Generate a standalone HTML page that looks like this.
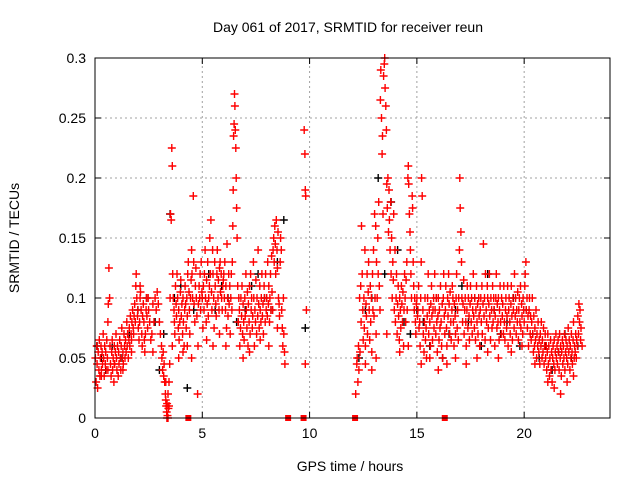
<!DOCTYPE html>
<html><head><meta charset="utf-8"><style>
body{margin:0;background:#fff;}
svg{display:block;font-family:"Liberation Sans",sans-serif;}
</style></head><body>
<svg id="chart" width="640" height="480">
<rect width="640" height="480" fill="#fff"/>
<text x="348" y="32" font-size="14" text-anchor="middle" fill="#000">Day 061 of 2017, SRMTID for receiver reun</text>
<text x="350" y="471" font-size="14" text-anchor="middle">GPS time / hours</text>
<text transform="translate(19,238) rotate(-90)" font-size="14" text-anchor="middle">SRMTID / TECUs</text>
<g id="grid"></g>
<g id="axes"></g>
<g id="black"></g>
<g id="red"></g>
<rect x="95" y="58" width="515" height="360" fill="none" stroke="#000" stroke-width="1"/>
</svg>
<script>
const xTicks=[0,5,10,15,20];
const yTicks=[0,0.05,0.1,0.15,0.2,0.25,0.3];
const yTickLabels=["0","0.05","0.1","0.15","0.2","0.25","0.3"];
// red series, [hour, TECU] pairs, by time segment
const redA=[[0.02,0.05],[0.05,0.03],[0.08,0.06],[0.1,0.045],[0.12,0.025],[0.15,0.055],[0.18,0.04],[0.2,0.065],[0.23,0.035],[0.25,0.05],[0.28,0.06],[0.3,0.04],[0.33,0.055],[0.35,0.045],[0.38,0.07],[0.4,0.05],[0.43,0.035],[0.45,0.06],[0.48,0.045],[0.5,0.055],[0.52,0.04],[0.55,0.065],[0.58,0.05],[0.6,0.08],[0.62,0.095],[0.65,0.125],[0.68,0.1],[0.7,0.06],[0.72,0.045],[0.75,0.035],[0.78,0.055],[0.8,0.065],[0.82,0.04],[0.85,0.05],[0.88,0.03],[0.9,0.06],[0.92,0.045],[0.95,0.055],[0.98,0.07],[1.0,0.05],[1.02,0.04],[1.05,0.06],[1.08,0.035],[1.1,0.055],[1.12,0.045],[1.15,0.065],[1.18,0.05],[1.2,0.04],[1.22,0.06],[1.25,0.075],[1.28,0.05],[1.3,0.055],[1.32,0.045],[1.35,0.07],[1.38,0.06],[1.4,0.05],[1.42,0.065],[1.45,0.055],[1.48,0.08],[1.5,0.06],[1.52,0.07],[1.55,0.05],[1.58,0.065],[1.6,0.075],[1.62,0.06],[1.65,0.085],[1.68,0.07],[1.7,0.065],[1.72,0.08],[1.75,0.09],[1.78,0.075],[1.8,0.07],[1.82,0.085],[1.85,0.095],[1.88,0.08],[1.9,0.11],[1.92,0.12],[1.95,0.1],[1.98,0.085],[2.0,0.09],[2.02,0.075],[2.05,0.065],[2.08,0.08],[2.1,0.1],[2.12,0.105],[2.15,0.09],[2.18,0.07],[2.2,0.06],[2.22,0.085],[2.25,0.095],[2.28,0.08],[2.3,0.065],[2.32,0.055],[2.35,0.07],[2.38,0.09],[2.4,0.1],[2.42,0.085],[2.45,0.075],[2.48,0.1],[2.5,0.09],[2.55,0.08],[2.6,0.065],[2.65,0.07],[2.7,0.055],[2.75,0.08],[2.8,0.1],[2.85,0.09],[2.9,0.105],[2.95,0.095],[3.0,0.08],[3.05,0.07],[3.1,0.06],[3.12,0.05],[3.15,0.04],[3.18,0.055],[3.2,0.035],[3.22,0.045],[3.25,0.03],[3.28,0.02],[3.3,0.015],[3.32,0.01],[3.34,0.005],[3.36,0.012],[3.38,0.002],[3.4,0.02],[3.42,0.008],[3.45,0.03],[3.48,0.045],[3.5,0.1],[3.52,0.17],[3.55,0.165],[3.58,0.225],[3.6,0.21],[3.62,0.12],[3.65,0.1],[3.68,0.09],[3.7,0.08],[3.72,0.07],[3.75,0.11],[3.78,0.095],[3.8,0.085],[3.82,0.12],[3.85,0.1],[3.88,0.075],[3.9,0.09],[3.92,0.065],[3.95,0.08],[3.98,0.105],[4.0,0.115],[4.02,0.085],[4.05,0.095],[4.08,0.07],[4.1,0.1],[4.12,0.08],[4.15,0.06],[4.18,0.09],[4.2,0.11],[4.22,0.095],[4.25,0.075],[4.28,0.1],[4.3,0.085],[4.32,0.12],[4.35,0.13],[4.38,0.105],[4.4,0.09],[4.42,0.07],[4.45,0.1],[4.48,0.115],[4.5,0.14],[4.52,0.12],[4.55,0.1],[4.58,0.185],[4.6,0.13],[4.62,0.095],[4.65,0.08],[4.68,0.11],[4.7,0.125],[4.72,0.1],[4.75,0.085],[4.78,0.02],[4.8,0.06],[4.82,0.095],[4.85,0.11],[4.88,0.1],[4.9,0.12],[4.92,0.09],[4.95,0.13],[4.98,0.105]];
const redB=[[5.0,0.1],[5.03,0.075],[5.05,0.11],[5.08,0.09],[5.1,0.12],[5.13,0.14],[5.15,0.1],[5.18,0.08],[5.2,0.115],[5.23,0.095],[5.25,0.13],[5.28,0.085],[5.3,0.1],[5.33,0.11],[5.35,0.15],[5.38,0.12],[5.4,0.165],[5.43,0.105],[5.45,0.09],[5.48,0.14],[5.5,0.12],[5.53,0.1],[5.55,0.075],[5.58,0.13],[5.6,0.11],[5.63,0.095],[5.65,0.085],[5.68,0.12],[5.7,0.14],[5.73,0.1],[5.75,0.115],[5.78,0.09],[5.8,0.125],[5.83,0.13],[5.85,0.105],[5.88,0.12],[5.9,0.1],[5.93,0.09],[5.95,0.11],[5.98,0.115],[6.0,0.12],[6.03,0.1],[6.05,0.13],[6.08,0.09],[6.1,0.11],[6.13,0.075],[6.15,0.145],[6.18,0.1],[6.2,0.085],[6.23,0.12],[6.25,0.095],[6.28,0.11],[6.3,0.07],[6.33,0.1],[6.35,0.12],[6.38,0.09],[6.4,0.13],[6.42,0.16],[6.44,0.19],[6.46,0.235],[6.48,0.245],[6.5,0.27],[6.52,0.26],[6.54,0.24],[6.56,0.225],[6.58,0.2],[6.6,0.175],[6.62,0.15],[6.65,0.11],[6.68,0.08],[6.7,0.1],[6.73,0.09],[6.75,0.06],[6.78,0.075],[6.8,0.1],[6.83,0.085],[6.85,0.11],[6.88,0.07],[6.9,0.095],[6.93,0.08],[6.95,0.065],[6.98,0.1],[7.0,0.085],[7.03,0.12],[7.05,0.09],[7.08,0.075],[7.1,0.105],[7.13,0.06],[7.15,0.095],[7.18,0.08],[7.2,0.11],[7.23,0.07],[7.25,0.12],[7.28,0.09],[7.3,0.1],[7.33,0.075],[7.35,0.085],[7.38,0.13],[7.4,0.1],[7.43,0.06],[7.45,0.09],[7.48,0.08],[7.5,0.115],[7.53,0.07],[7.55,0.1],[7.58,0.085],[7.6,0.14],[7.63,0.095],[7.65,0.075],[7.68,0.11],[7.7,0.09],[7.73,0.08],[7.75,0.1],[7.78,0.12],[7.8,0.085],[7.83,0.095],[7.85,0.07],[7.88,0.11],[7.9,0.1],[7.93,0.08],[7.95,0.12],[7.98,0.09],[8.0,0.1],[8.03,0.085],[8.05,0.13],[8.08,0.095],[8.1,0.11],[8.13,0.08],[8.15,0.1],[8.18,0.12],[8.2,0.09],[8.23,0.135],[8.25,0.105],[8.28,0.09],[8.3,0.14],[8.33,0.15],[8.35,0.13],[8.38,0.16],[8.4,0.145],[8.42,0.12],[8.45,0.165],[8.48,0.14],[8.5,0.125],[8.53,0.155],[8.55,0.1],[8.58,0.095],[8.6,0.085],[8.63,0.13],[8.65,0.15],[8.68,0.14],[8.7,0.09],[8.73,0.075],[8.75,0.06],[8.78,0.1],[8.8,0.07],[8.83,0.055],[8.85,0.045],[9.75,0.24],[9.78,0.22],[9.8,0.19],[9.82,0.185],[9.85,0.09],[9.8,0.045]];
const redC=[[12.15,0.02],[12.2,0.045],[12.22,0.05],[12.25,0.03],[12.28,0.06],[12.3,0.04],[12.33,0.1],[12.35,0.055],[12.38,0.11],[12.4,0.08],[12.42,0.16],[12.45,0.12],[12.48,0.09],[12.5,0.065],[12.53,0.1],[12.55,0.075],[12.58,0.14],[12.6,0.06],[12.63,0.095],[12.65,0.085],[12.68,0.12],[12.7,0.07],[12.73,0.105],[12.75,0.13],[12.78,0.09],[12.8,0.065],[12.83,0.11],[12.85,0.08],[12.88,0.1],[12.9,0.055],[12.93,0.12],[12.95,0.09],[12.98,0.14],[13.0,0.085],[13.03,0.17],[13.05,0.1],[13.08,0.16],[13.1,0.07],[13.12,0.13],[13.15,0.1],[13.18,0.15],[13.2,0.12],[13.22,0.18],[13.25,0.11],[13.28,0.09],[13.3,0.265],[13.32,0.29],[13.35,0.25],[13.38,0.22],[13.4,0.235],[13.42,0.17],[13.45,0.285],[13.48,0.295],[13.5,0.3],[13.52,0.275],[13.55,0.26],[13.58,0.24],[13.6,0.195],[13.62,0.175],[13.65,0.2],[13.68,0.155],[13.7,0.19],[13.72,0.165],[13.75,0.14],[13.78,0.18],[13.8,0.12],[13.82,0.15],[13.85,0.1],[13.88,0.13],[13.9,0.115],[13.92,0.17],[13.95,0.09],[13.98,0.14],[14.0,0.08],[14.03,0.1],[14.05,0.12],[14.08,0.07],[14.1,0.095],[14.13,0.11],[14.15,0.085],[14.18,0.065],[14.2,0.1],[14.23,0.09],[14.25,0.075],[14.28,0.11],[14.3,0.095],[14.33,0.08],[14.35,0.105],[14.38,0.06],[14.4,0.09],[14.43,0.12],[14.45,0.1],[14.48,0.08],[14.5,0.115],[14.53,0.13],[14.55,0.09],[14.58,0.2],[14.6,0.21],[14.62,0.195],[14.65,0.17],[14.68,0.155],[14.7,0.14],[14.72,0.12],[14.75,0.1],[14.78,0.185],[14.8,0.175],[14.83,0.13],[14.85,0.11],[14.88,0.09],[14.9,0.1],[14.93,0.08],[14.95,0.07],[14.98,0.095],[15.0,0.1],[15.03,0.085],[15.05,0.09],[15.08,0.11],[15.1,0.075],[15.13,0.08],[15.15,0.06],[15.18,0.1],[15.2,0.13],[15.22,0.2],[15.25,0.185],[15.28,0.09],[15.3,0.07],[15.33,0.055],[15.35,0.08],[15.38,0.1],[15.4,0.065],[15.43,0.075],[15.45,0.05],[15.48,0.085],[15.5,0.1],[15.53,0.12],[15.55,0.07],[15.58,0.09],[15.6,0.08],[15.63,0.06],[15.65,0.095],[15.68,0.11],[15.7,0.085],[15.73,0.065],[15.75,0.09],[15.78,0.1],[15.8,0.075],[15.83,0.12],[15.85,0.09],[15.88,0.07],[15.9,0.1],[15.93,0.08],[15.95,0.055],[15.98,0.085],[16.0,0.1],[16.03,0.065],[16.05,0.09],[16.08,0.075],[16.1,0.11],[16.13,0.08],[16.15,0.06],[16.18,0.095],[16.2,0.05],[16.23,0.1],[16.25,0.12],[16.28,0.085],[16.3,0.07],[16.33,0.09],[16.35,0.11],[16.38,0.075],[16.4,0.06],[16.43,0.1],[16.45,0.085],[16.48,0.12],[16.5,0.095],[16.53,0.07],[16.55,0.105],[16.58,0.08],[16.6,0.065],[16.63,0.09],[16.65,0.11],[16.68,0.1],[16.7,0.08],[16.73,0.06],[16.75,0.095],[16.78,0.085],[16.8,0.07],[16.83,0.1],[16.85,0.12],[16.88,0.075],[16.9,0.09],[16.93,0.065],[16.95,0.1],[16.98,0.14]];
const redD=[[17.0,0.2],[17.02,0.175],[17.05,0.155],[17.08,0.13],[17.1,0.1],[17.13,0.08],[17.15,0.095],[17.18,0.115],[17.2,0.07],[17.23,0.09],[17.25,0.1],[17.28,0.08],[17.3,0.06],[17.33,0.09],[17.35,0.11],[17.38,0.075],[17.4,0.1],[17.43,0.085],[17.45,0.065],[17.48,0.095],[17.5,0.11],[17.53,0.08],[17.55,0.1],[17.58,0.07],[17.6,0.09],[17.63,0.12],[17.65,0.085],[17.68,0.075],[17.7,0.1],[17.73,0.065],[17.75,0.09],[17.78,0.11],[17.8,0.08],[17.83,0.095],[17.85,0.07],[17.88,0.1],[17.9,0.085],[17.93,0.06],[17.95,0.09],[17.98,0.1],[18.0,0.08],[18.03,0.11],[18.05,0.07],[18.08,0.095],[18.1,0.145],[18.13,0.085],[18.15,0.1],[18.18,0.065],[18.2,0.12],[18.23,0.09],[18.25,0.08],[18.28,0.11],[18.3,0.1],[18.33,0.075],[18.35,0.095],[18.38,0.12],[18.4,0.085],[18.43,0.065],[18.45,0.1],[18.48,0.09],[18.5,0.075],[18.53,0.11],[18.55,0.08],[18.58,0.1],[18.6,0.09],[18.63,0.06],[18.65,0.085],[18.68,0.1],[18.7,0.12],[18.73,0.075],[18.75,0.095],[18.78,0.08],[18.8,0.1],[18.83,0.065],[18.85,0.09],[18.88,0.11],[18.9,0.08],[18.93,0.07],[18.95,0.1],[18.98,0.085],[19.0,0.095],[19.03,0.07],[19.05,0.11],[19.08,0.08],[19.1,0.065],[19.13,0.09],[19.15,0.1],[19.18,0.075],[19.2,0.085],[19.23,0.11],[19.25,0.06],[19.28,0.09],[19.3,0.1],[19.33,0.08],[19.35,0.07],[19.38,0.095],[19.4,0.11],[19.43,0.085],[19.45,0.065],[19.48,0.1],[19.5,0.09],[19.53,0.075],[19.55,0.12],[19.58,0.085],[19.6,0.1],[19.63,0.07],[19.65,0.09],[19.68,0.08],[19.7,0.105],[19.73,0.065],[19.75,0.09],[19.78,0.1],[19.8,0.08],[19.83,0.11],[19.85,0.075],[19.88,0.095],[19.9,0.085],[19.93,0.07],[19.95,0.1],[19.98,0.09],[20.0,0.08],[20.03,0.11],[20.05,0.12],[20.08,0.13],[20.1,0.09],[20.13,0.1],[20.15,0.075],[20.18,0.085],[20.2,0.06],[20.23,0.09],[20.25,0.1],[20.28,0.07],[20.3,0.085],[20.33,0.065],[20.35,0.08],[20.38,0.1],[20.4,0.07],[20.43,0.055],[20.45,0.085],[20.48,0.06],[20.5,0.075],[20.53,0.065],[20.55,0.09],[20.58,0.05],[20.6,0.07],[20.63,0.06],[20.65,0.08],[20.68,0.055],[20.7,0.065],[20.73,0.045],[20.75,0.07],[20.78,0.06],[20.8,0.08],[20.83,0.05],[20.85,0.065],[20.88,0.055],[20.9,0.075],[20.93,0.045],[20.95,0.06],[20.98,0.07],[21.0,0.05],[21.03,0.06],[21.05,0.04],[21.08,0.055],[21.1,0.07],[21.13,0.045],[21.15,0.06],[21.18,0.035],[21.2,0.05],[21.23,0.065],[21.25,0.04],[21.28,0.055],[21.3,0.03],[21.33,0.05],[21.35,0.06],[21.38,0.045],[21.4,0.065],[21.43,0.04],[21.45,0.055],[21.48,0.07],[21.5,0.05],[21.53,0.06],[21.55,0.045],[21.58,0.065],[21.6,0.055],[21.63,0.04],[21.65,0.07],[21.68,0.05],[21.7,0.06],[21.73,0.035],[21.75,0.055],[21.78,0.065],[21.8,0.045],[21.83,0.06],[21.85,0.05],[21.88,0.07],[21.9,0.04],[21.93,0.055],[21.95,0.065],[21.98,0.05],[22.0,0.06],[22.03,0.045],[22.05,0.075],[22.08,0.055],[22.1,0.065],[22.13,0.04],[22.15,0.06],[22.18,0.05],[22.2,0.07],[22.23,0.055],[22.25,0.045],[22.28,0.065],[22.3,0.08],[22.33,0.05],[22.35,0.06],[22.38,0.055],[22.4,0.07],[22.43,0.05],[22.45,0.065],[22.48,0.06],[22.5,0.085],[22.53,0.07],[22.55,0.095],[22.58,0.08],[22.6,0.09],[22.63,0.065],[22.65,0.075],[22.7,0.06]];
// second layer (scatter above/below main band)
const redE=[[0.3,0.035],[0.6,0.04],[0.9,0.045],[1.3,0.04],[1.7,0.055],[2.1,0.11],[2.7,0.095],[3.3,0.03],[3.35,0.0],[3.4,0.0],[3.45,0.01],[3.6,0.06],[3.9,0.05],[4.1,0.055],[4.3,0.06],[4.5,0.05],[5.2,0.065],[5.5,0.06],[5.8,0.07],[6.1,0.06],[6.9,0.05],[7.2,0.055],[7.7,0.065],[8.1,0.06],[8.5,0.075],[12.6,0.045],[12.9,0.04],[13.1,0.05],[13.6,0.07],[14.2,0.055],[14.6,0.06],[15.2,0.045],[15.6,0.05],[16.0,0.04],[16.4,0.045],[16.8,0.05],[17.3,0.045],[17.8,0.05],[18.3,0.055],[18.8,0.05],[19.4,0.055],[19.9,0.06],[20.5,0.045],[21.1,0.03],[21.4,0.025],[21.7,0.02],[22.0,0.03],[22.3,0.035]];
// points on the axis (value 0) drawn as dense squares
const zeroT=[4.35,9.0,9.72,12.12,16.3];
const blackT=[0.1,0.3,0.5,0.8,1.2,1.6,2.0,2.4,2.8,3.0,3.2,3.5,3.7,4.0,4.3,4.6,5.0,5.3,5.6,5.9,6.2,6.6,7.0,7.3,7.6,7.9,8.2,8.5,8.8,9.8,12.3,12.6,12.9,13.2,13.5,13.8,14.1,14.4,14.7,15.0,15.3,15.6,15.9,16.2,16.5,16.8,17.1,17.4,17.7,18.0,18.3,18.6,18.9,19.2,19.5,19.8,20.1,20.4,20.7,21.0,21.3,21.6,21.9,22.2,22.5];
const blackV=[0.06,0.05,0.04,0.06,0.05,0.07,0.09,0.1,0.08,0.04,0.07,0.17,0.1,0.11,0.025,0.09,0.1,0.12,0.09,0.11,0.1,0.08,0.09,0.11,0.12,0.1,0.09,0.13,0.165,0.075,0.05,0.09,0.1,0.2,0.12,0.18,0.14,0.08,0.07,0.09,0.08,0.06,0.1,0.05,0.07,0.09,0.11,0.08,0.1,0.06,0.12,0.09,0.07,0.08,0.1,0.06,0.09,0.07,0.05,0.06,0.04,0.055,0.07,0.05,0.06];

const X0=95,X1=610,Y0=418,Y1=58,TMAX=24,VMAX=0.3;
const xs=t=>X0+(t/TMAX)*(X1-X0);
const ys=v=>Y0-(v/VMAX)*(Y0-Y1);
const NS="http://www.w3.org/2000/svg";
const grid=document.getElementById('grid'),axes=document.getElementById('axes');
function mk(tag,attrs,parent){const e=document.createElementNS(NS,tag);for(const k in attrs)e.setAttribute(k,attrs[k]);parent.appendChild(e);return e;}
xTicks.forEach(t=>{
  const x=xs(t);
  if(t>0){const g=mk('line',{x1:x,x2:x,y1:Y0,y2:Y1,stroke:'#a0a0a0','stroke-dasharray':'2,3'},grid);
  
  }
  const tk=mk('path',{d:`M${x},${Y0}v-6M${x},${Y1}v6`,stroke:'#000'},axes);
  
  
  const lb=mk('text',{x:x,y:Y0+20,'font-size':'14','text-anchor':'middle'},axes);lb.textContent=t;
  
  
});
yTicks.forEach((v,i)=>{
  const y=ys(v);
  if(v>0&&v<VMAX){const g=mk('line',{x1:X0,x2:X1,y1:y,y2:y,stroke:'#a0a0a0','stroke-dasharray':'2,3'},grid);
  
  }
  const tk=mk('path',{d:`M${X0},${y}h6M${X1},${y}h-6`,stroke:'#000'},axes);
  
  
  const lb=mk('text',{x:X0-9,y:y+5,'font-size':'14','text-anchor':'end'},axes);lb.textContent=yTickLabels[i];
  
  
});
function plotPairs(P,col,gid,name){
  const g=document.getElementById(gid);let d='';
  P.forEach(([t,v])=>{const x=xs(t),y=ys(v);d+=`M${(x-4).toFixed(1)},${y.toFixed(1)}h8M${x.toFixed(1)},${(y-4).toFixed(1)}v8`;});
  const p=mk('path',{d:d,stroke:col,'stroke-width':'1.4',fill:'none'},g);
  
  
}
plotPairs(blackT.map((t,i)=>[t,blackV[i]]),'#000','black','black-points');
plotPairs(redA,'#ff0000','red','red-points-0-5h');
plotPairs(redB,'#ff0000','red','red-points-5-10h');
plotPairs(redC,'#ff0000','red','red-points-12-17h');
plotPairs(redD,'#ff0000','red','red-points-17-23h');
plotPairs(redE,'#ff0000','red','red-points-low-scatter');
const rg=document.getElementById('red');
zeroT.forEach(t=>{
  const r=mk('rect',{x:xs(t)-3,y:ys(0)-3,width:6,height:6,fill:'#ff0000'},rg);
  
  
});
</script>
</body></html>
